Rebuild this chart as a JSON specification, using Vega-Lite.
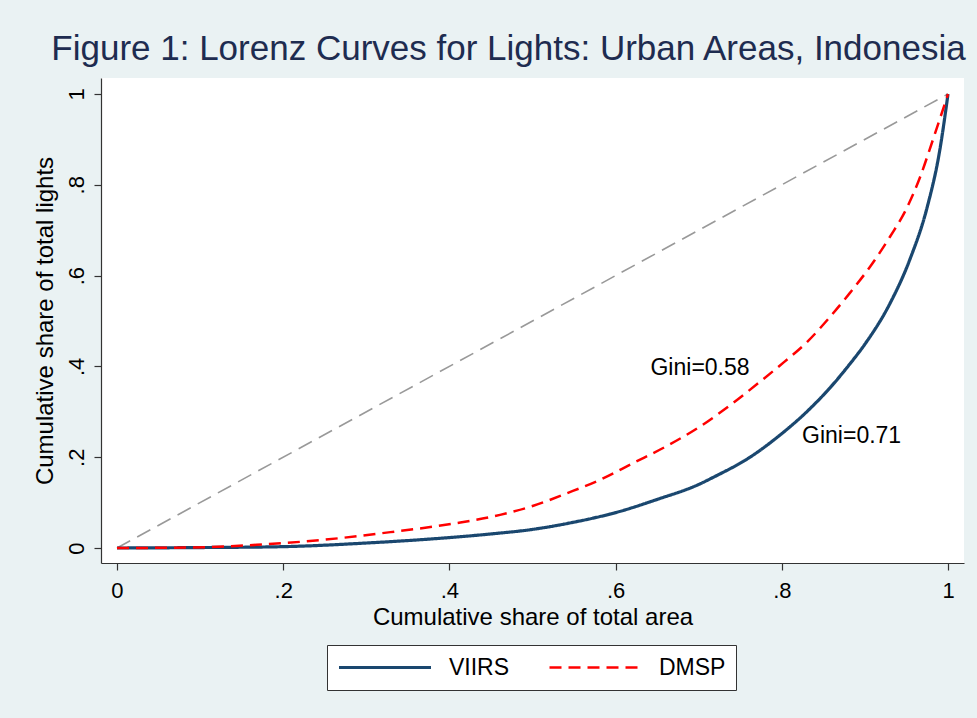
{
  "$schema": "https://vega.github.io/schema/vega-lite/v6.json",
  "autosize": {"type": "none"},
  "padding": {"left": 101, "top": 78, "right": 13, "bottom": 155},
  "width": 863,
  "height": 485,
  "background": "#EAF2F3",
  "config": {
    "font": "Liberation Sans",
    "view": {"fill": "white", "stroke": null},
    "axis": {
      "grid": false,
      "domainColor": "#333333",
      "domainWidth": 1.2,
      "tickColor": "#333333",
      "tickWidth": 1.2,
      "tickSize": 7,
      "labelFont": "Liberation Sans",
      "labelFontSize": 22,
      "labelColor": "#000000",
      "titleFont": "Liberation Sans",
      "titleFontSize": 24,
      "titleFontWeight": "normal",
      "titleColor": "#000000"
    }
  },
  "title": {
    "text": "Figure 1: Lorenz Curves for Lights: Urban Areas, Indonesia",
    "font": "Liberation Sans",
    "fontSize": 35,
    "fontWeight": "normal",
    "color": "#1e2c50",
    "anchor": "middle",
    "dx": -24,
    "offset": 11
  },
  "datasets": {
    "diag": [{"x": 0, "y": 0}, {"x": 1, "y": 1}],
    "curves": [
      {"series": "VIIRS", "x": 0, "y": 0},
      {"series": "VIIRS", "x": 0.1, "y": 0.001},
      {"series": "VIIRS", "x": 0.2, "y": 0.003},
      {"series": "VIIRS", "x": 0.3, "y": 0.011},
      {"series": "VIIRS", "x": 0.4, "y": 0.023},
      {"series": "VIIRS", "x": 0.45, "y": 0.031},
      {"series": "VIIRS", "x": 0.5, "y": 0.041},
      {"series": "VIIRS", "x": 0.55, "y": 0.057},
      {"series": "VIIRS", "x": 0.6, "y": 0.078},
      {"series": "VIIRS", "x": 0.65, "y": 0.107},
      {"series": "VIIRS", "x": 0.7, "y": 0.14},
      {"series": "VIIRS", "x": 0.72, "y": 0.158},
      {"series": "VIIRS", "x": 0.76, "y": 0.198},
      {"series": "VIIRS", "x": 0.8, "y": 0.252},
      {"series": "VIIRS", "x": 0.83, "y": 0.3},
      {"series": "VIIRS", "x": 0.86, "y": 0.357},
      {"series": "VIIRS", "x": 0.88, "y": 0.401},
      {"series": "VIIRS", "x": 0.9, "y": 0.449},
      {"series": "VIIRS", "x": 0.93, "y": 0.538},
      {"series": "VIIRS", "x": 0.954, "y": 0.635},
      {"series": "VIIRS", "x": 0.975, "y": 0.751},
      {"series": "VIIRS", "x": 0.99, "y": 0.875},
      {"series": "VIIRS", "x": 1, "y": 1},
      {"series": "DMSP", "x": 0, "y": 0},
      {"series": "DMSP", "x": 0.088, "y": 0.001},
      {"series": "DMSP", "x": 0.168, "y": 0.007},
      {"series": "DMSP", "x": 0.248, "y": 0.018},
      {"series": "DMSP", "x": 0.329, "y": 0.035},
      {"series": "DMSP", "x": 0.409, "y": 0.055},
      {"series": "DMSP", "x": 0.461, "y": 0.073},
      {"series": "DMSP", "x": 0.501, "y": 0.093},
      {"series": "DMSP", "x": 0.542, "y": 0.121},
      {"series": "DMSP", "x": 0.581, "y": 0.15},
      {"series": "DMSP", "x": 0.621, "y": 0.187},
      {"series": "DMSP", "x": 0.662, "y": 0.225},
      {"series": "DMSP", "x": 0.702, "y": 0.268},
      {"series": "DMSP", "x": 0.741, "y": 0.319},
      {"series": "DMSP", "x": 0.777, "y": 0.371},
      {"series": "DMSP", "x": 0.803, "y": 0.41},
      {"series": "DMSP", "x": 0.83, "y": 0.453},
      {"series": "DMSP", "x": 0.858, "y": 0.509},
      {"series": "DMSP", "x": 0.882, "y": 0.562},
      {"series": "DMSP", "x": 0.906, "y": 0.619},
      {"series": "DMSP", "x": 0.93, "y": 0.685},
      {"series": "DMSP", "x": 0.951, "y": 0.751},
      {"series": "DMSP", "x": 0.966, "y": 0.815},
      {"series": "DMSP", "x": 0.982, "y": 0.9},
      {"series": "DMSP", "x": 1, "y": 1}
    ],
    "labels": [
      {"x": 0.7016, "y": 0.396, "label": "Gini=0.58"},
      {"x": 0.884, "y": 0.247, "label": "Gini=0.71"}
    ]
  },
  "layer": [
    {
      "data": {"name": "diag"},
      "mark": {"type": "line", "color": "#999999", "strokeWidth": 1.6, "strokeDash": [15, 8]},
      "encoding": {
        "x": {
          "field": "x", "type": "quantitative",
          "scale": {"domain": [-0.01925, 1.01925], "nice": false, "zero": false},
          "axis": {
            "values": [0, 0.2, 0.4, 0.6, 0.8, 1],
            "labelExpr": "replace(format(datum.value, '~g'), '0.', '.')",
            "labelPadding": 10,
            "title": "Cumulative share of total area",
            "titlePadding": 4
          }
        },
        "y": {
          "field": "y", "type": "quantitative",
          "scale": {"domain": [-0.033, 1.0352], "nice": false, "zero": false},
          "axis": {
            "values": [0, 0.2, 0.4, 0.6, 0.8, 1],
            "labelExpr": "replace(format(datum.value, '~g'), '0.', '.')",
            "labelAngle": -90,
            "labelPadding": 6,
            "title": "Cumulative share of total lights",
            "titlePadding": 8
          }
        }
      }
    },
    {
      "data": {"name": "curves"},
      "mark": {"type": "line", "interpolate": "monotone"},
      "encoding": {
        "x": {"field": "x", "type": "quantitative"},
        "y": {"field": "y", "type": "quantitative"},
        "color": {
          "field": "series", "type": "nominal",
          "scale": {"domain": ["VIIRS", "DMSP"], "range": ["#1A476F", "#FF0000"]},
          "legend": {
            "orient": "none",
            "legendX": 226,
            "legendY": 567,
            "direction": "horizontal",
            "title": null,
            "strokeColor": "#333333",
            "fillColor": "white",
            "padding": 10,
            "labelFontSize": 23,
            "labelFont": "Liberation Sans",
            "labelColor": "#000000",
            "symbolType": "stroke",
            "symbolSize": 8464,
            "symbolStrokeWidth": 3,
            "clipHeight": 25,
            "labelOffset": 16,
            "columnPadding": 38
          }
        },
        "strokeDash": {
          "field": "series", "type": "nominal",
          "scale": {"domain": ["VIIRS", "DMSP"], "range": [[1, 0], [12, 7]]}
        },
        "strokeWidth": {
          "field": "series", "type": "nominal",
          "scale": {"domain": ["VIIRS", "DMSP"], "range": [3.2, 2.5]},
          "legend": null
        },
        "order": {"field": "x", "type": "quantitative"}
      }
    },
    {
      "data": {"name": "labels"},
      "mark": {"type": "text", "fontSize": 23, "font": "Liberation Sans", "color": "#000000", "align": "center", "baseline": "middle"},
      "encoding": {
        "x": {"field": "x", "type": "quantitative"},
        "y": {"field": "y", "type": "quantitative"},
        "text": {"field": "label"}
      }
    }
  ]
}
